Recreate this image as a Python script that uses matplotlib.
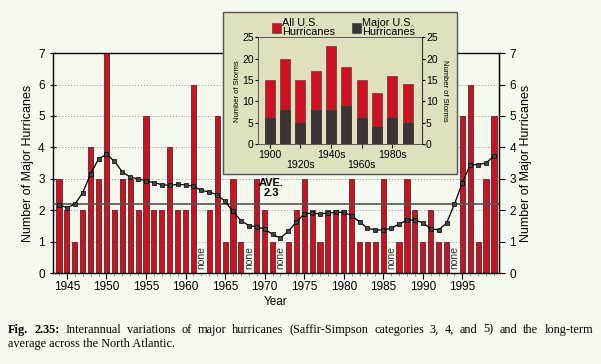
import matplotlib

matplotlib.use("Agg")
import matplotlib.pyplot as plt
from matplotlib.patches import Rectangle

plt.rcParams["font.family"] = ["Liberation Sans", "DejaVu Sans"]

# Main chart: major hurricanes per year (0 in a "none" year)
years = list(range(1944, 2000))
major = [3, 2, 1, 2, 4, 3, 7, 2, 3, 3, 2, 5, 2, 2, 4, 2, 2, 6, 0, 2,
         5, 1, 3, 1, 0, 3, 2, 1, 0, 1, 2, 3, 2, 1, 2, 2, 2, 3, 1, 1,
         1, 3, 0, 1, 3, 2, 1, 2, 1, 1, 0, 5, 6, 1, 3, 5]
none_years = [1962, 1968, 1972, 1986, 1994]
smooth = [2.17, 2.08, 2.19, 2.56, 3.16, 3.63, 3.78, 3.56, 3.22, 3.05,
          3.00, 2.93, 2.88, 2.81, 2.79, 2.82, 2.81, 2.76, 2.63, 2.58,
          2.49, 2.28, 1.96, 1.67, 1.51, 1.47, 1.40, 1.23, 1.11, 1.33,
          1.62, 1.88, 1.91, 1.88, 1.91, 1.93, 1.93, 1.83, 1.63, 1.43,
          1.37, 1.37, 1.42, 1.56, 1.68, 1.69, 1.60, 1.41, 1.37, 1.59,
          2.19, 2.87, 3.45, 3.45, 3.50, 3.73]
ave_level = 2.2
ave_label = "AVE.\n2.3"

# Inset: U.S. hurricanes per decade
decades = ["1900", "1910s", "1920s", "1930s", "1940s", "1950s", "1960s", "1970s", "1980s", "1990s"]
all_us = [15, 20, 15, 17, 23, 18, 15, 12, 16, 14]
major_us = [6, 8, 5, 8, 8, 9, 6, 4, 6, 5]
shown_decades = {0: "1900", 2: "\n1920s", 4: "1940s", 6: "\n1960s", 8: "1980s"}

caption_head = "Fig. 2.35:"
caption_line1 = "Interannual variations of major hurricanes (Saffir-Simpson categories 3, 4, and 5) and the long-term"
caption_line2 = "average across the North Atlantic."

RED = "#cf1020"
DARK = "#3a3434"
BG = "#f6f9ef"
INSET_BG = "#dfe0bd"

fig = plt.figure(figsize=(6.01, 3.64), dpi=100, facecolor=BG)
ax = fig.add_axes([0.0882, 0.25, 0.742, 0.604], facecolor=BG)

ax.bar(years, major, width=0.65, color=RED, edgecolor="#222222", linewidth=0.5, zorder=2)
for y in none_years:
    ax.text(y, 0.12, "none", rotation=90, ha="center", va="bottom", fontsize=7.5, color="#333333", zorder=3)
ax.axhline(ave_level, color="#555555", linewidth=1.2, zorder=3)
ax.text(1970.8, 2.38, ave_label, ha="center", va="bottom", fontsize=8, fontweight="bold", linespacing=1.0, zorder=4)
ax.plot(years, smooth, color="black", linewidth=0.9, marker="s", markersize=3.2,
        markerfacecolor="#444444", markeredgecolor="black", markeredgewidth=0.5, zorder=5)

ax.set_xlim(1943.24, 1999.63)
ax.set_ylim(0, 7)
ax.set_yticks(range(0, 8))
ax.set_xticks(range(1945, 2000, 5))
ax.set_xticks(range(1944, 2000), minor=True)
ax.grid(axis="y", linestyle=(0, (1, 2)), color="#999999", linewidth=0.7, zorder=0)
ax.tick_params(axis="x", which="major", direction="out", length=4, labelsize=8.5, pad=2)
ax.tick_params(axis="x", which="minor", direction="out", length=2, color="#888888")
ax.tick_params(axis="y", direction="inout", length=5, labelsize=8.5)
ax.set_xlabel("Year", fontsize=8.5, labelpad=2)
ax.set_ylabel("Number of Major Hurricanes", fontsize=9, labelpad=3)
ax2 = ax.secondary_yaxis("right")
ax2.set_yticks(range(0, 8))
ax2.tick_params(direction="out", length=4, labelsize=8.5)
ax2.set_ylabel("Number of Major Hurricanes", fontsize=9, labelpad=3)
for s in ax.spines.values():
    s.set_linewidth(1.0)

# Inset panel
fig.patches.append(Rectangle((0.371, 0.522), 0.389, 0.445, transform=fig.transFigure,
                             facecolor=INSET_BG, edgecolor="#555555", linewidth=1.0, zorder=10))
ins = fig.add_axes([0.429, 0.604, 0.273, 0.294], facecolor="none", zorder=11)
idx = list(range(len(decades)))
ins.bar(idx, all_us, width=0.65, color=RED, edgecolor="#333333", linewidth=0.4)
ins.bar(idx, major_us, width=0.65, color=DARK, edgecolor="#333333", linewidth=0.4)
ins.set_xlim(-0.78, 9.93)
ins.set_ylim(0, 25)
ins.set_yticks(range(0, 26, 5))
ins.set_xticks(list(shown_decades.keys()))
ins.set_xticklabels(list(shown_decades.values()), fontsize=7.5, linespacing=1.0)
ins.tick_params(axis="x", direction="out", length=3, pad=1)
ins.tick_params(axis="y", direction="out", length=2, labelsize=7.5, pad=1, right=True, labelright=True)
ins.set_ylabel("Number of Storms", fontsize=5.5, labelpad=1)
ins2 = ins.secondary_yaxis("right")
ins2.set_yticks([])
ins2.set_ylabel("Number of Storms", fontsize=5.5, rotation=270, labelpad=19)
for s in ins.spines.values():
    s.set_linewidth(0.6)
    s.set_color("#444444")

fig.patches.append(Rectangle((0.452, 0.91), 0.016, 0.028, transform=fig.transFigure,
                             facecolor=RED, edgecolor="#333333", linewidth=0.4, zorder=12))
fig.text(0.470, 0.925, "All U.S.\nHurricanes", fontsize=7.8, va="center", linespacing=0.9, zorder=12)
fig.patches.append(Rectangle((0.585, 0.91), 0.016, 0.028, transform=fig.transFigure,
                             facecolor=DARK, edgecolor="#333333", linewidth=0.4, zorder=12))
fig.text(0.603, 0.925, "Major U.S.\nHurricanes", fontsize=7.8, va="center", linespacing=0.9, zorder=12)

# Caption: bold head, then justified first line up to the right margin
cap = dict(fontsize=8.8, family="Liberation Serif", va="center")
renderer = fig.canvas.get_renderer()
W = fig.bbox.width
left_px, right_px = 8, 593
words = [fig.text(0, 0.094, caption_head, fontweight="bold", **cap)]
words[0].set_text("Fig.")
head2 = fig.text(0, 0.094, "2.35:", fontweight="bold", **cap)
words.append(head2)
words += [fig.text(0, 0.094, w, **cap) for w in caption_line1.split()]
widths = [t.get_window_extent(renderer).width for t in words]
gap = (right_px - left_px - sum(widths)) / (len(words) - 1)
x = left_px
for t, w in zip(words, widths):
    t.set_x(x / W)
    x += w + gap
fig.text(left_px / W, 0.056, caption_line2, **cap)

fig.savefig("out.png", dpi=100, facecolor=BG)
